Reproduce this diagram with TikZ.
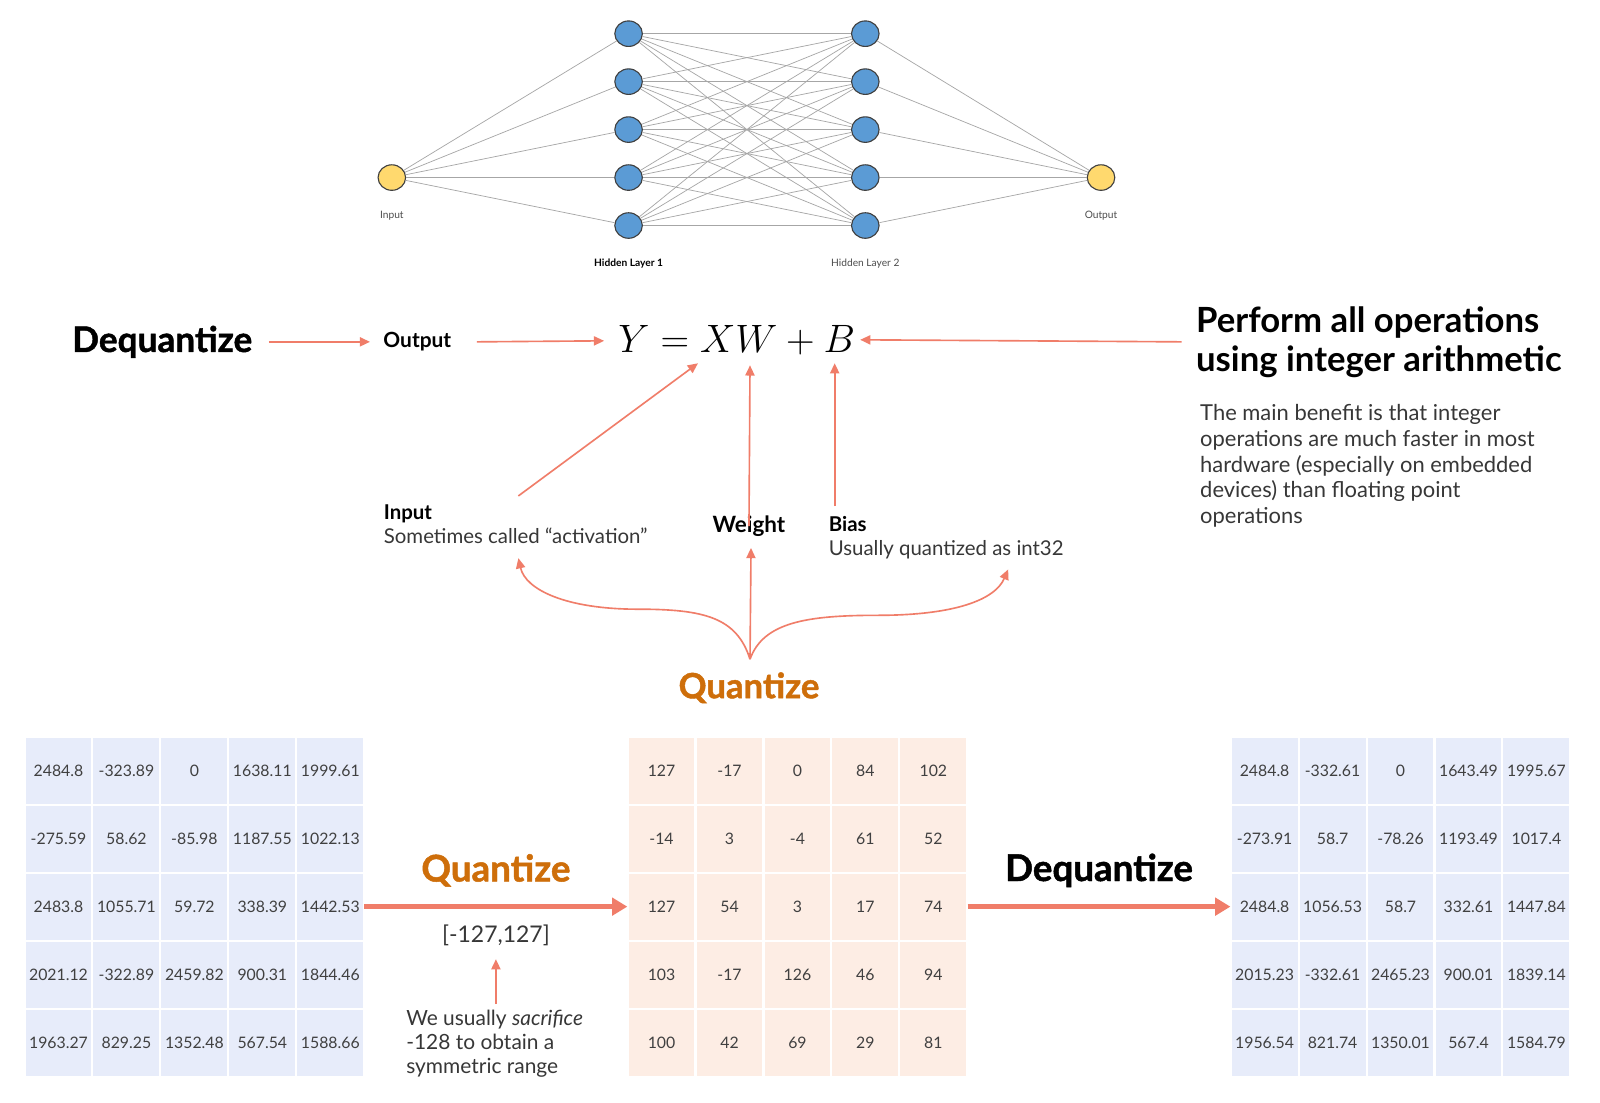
\documentclass[tikz,border=0pt]{standalone}
\usepackage{graphicx}
\usepackage{fontspec}
\setmainfont{Lato}
\newfontfamily\heavyfont{Lato}[BoldFeatures={FakeBold=1.3}]
\usetikzlibrary{arrows.meta,shapes.geometric}
\definecolor{salmon}{RGB}{240,125,105}
\definecolor{qorange}{RGB}{206,110,10}
\definecolor{nodeblue}{RGB}{91,155,213}
\definecolor{nodeyellow}{RGB}{255,217,110}
\definecolor{cellblue}{RGB}{231,236,250}
\definecolor{cellpeach}{RGB}{253,237,228}
\definecolor{txtgray}{RGB}{55,55,55}
\tikzset{
 nnedge/.style={draw=black!35, line width=0.7pt},
 hidnode/.style={ellipse, draw=black!75, line width=1.1pt, fill=nodeblue, minimum width=27pt, minimum height=25pt, inner sep=0pt},
 ionode/.style={hidnode, fill=nodeyellow},
 tinylabel/.style={font=\fontsize{10}{12}\selectfont, text=black!70, inner sep=0pt},
 tinybold/.style={font=\fontsize{10}{12}\selectfont\bfseries, text=black, inner sep=0pt},
 thinarrow/.style={draw=salmon, line width=1.6pt, -{Triangle[length=10pt,width=9pt]}},
 thickarrow/.style={draw=salmon, line width=5pt, -{Triangle[length=15pt,width=17pt]}},
 cellL/.style={fill=cellblue, minimum width=64.6pt, minimum height=64.6pt, inner sep=0pt, text=black!75, font=\fontsize{15.5}{18}\selectfont},
 cellM/.style={cellL, fill=cellpeach},
 midbold/.style={font=\fontsize{20.5}{24}\selectfont\bfseries, inner sep=0pt},
 bodytext/.style={font=\fontsize{20}{23.5}\selectfont, text=txtgray, inner sep=0pt, align=left},
}
\begin{document}
\begin{tikzpicture}[x=1pt,y=-1pt]
\fill[white] (0,0) rectangle (1568,1080);
\useasboundingbox (0,0) rectangle (1568,1080);

% ---------------- neural network ----------------
\foreach \i/\yy in {1/33,2/80,3/127,4/174,5/221} {
  \node[hidnode] (a\i) at (616,\yy) {};
  \node[hidnode] (b\i) at (848,\yy) {};
}
\node[ionode] (nin) at (384,174) {};
\node[ionode] (nout) at (1079,174) {};
\foreach \i in {1,...,5} {
  \draw[nnedge] (nin) -- (a\i);
  \draw[nnedge] (b\i) -- (nout);
  \foreach \j in {1,...,5} \draw[nnedge] (a\i) -- (b\j);
}
\node[tinylabel] (lin) at (384,211) {Input};
\node[tinylabel] (lout) at (1079,211) {Output};
\node[tinybold] (lh1) at (616,258) {Hidden Layer 1};
\node[tinylabel] (lh2) at (848,258) {Hidden Layer 2};

% ---------------- equation row ----------------
\node[font=\fontsize{34.5}{40}\heavyfont\bfseries, inner sep=0pt] (deq) at (159,335) {Dequantize};
\node[midbold] (outl) at (409,335) {Output};
\node[inner sep=0pt] (eq) at (722,333) {\scalebox{1.56}{\fontsize{24.88}{30}\selectfont $Y = XW + B$}};
\node[font=\fontsize{34}{38}\selectfont\bfseries, inner sep=0pt, align=left, anchor=west] (perf) at (1172,335) {Perform all operations\\using integer arithmetic};
\node[bodytext, font=\fontsize{21.5}{25.3}\selectfont, anchor=north west] (para) at (1176,396) {The main benefit is that integer\\operations are much faster in most\\hardware (especially on embedded\\devices) than floating point\\operations};

\coordinate (eqL) at (592,334);
\coordinate (eqR) at (843,333);
\coordinate (eqX) at (684,356);
\coordinate (eqW) at (735,358);
\coordinate (eqB) at (818,356);
\draw[thinarrow] ([xshift=16pt]deq.east) -- ([xshift=-13pt]outl.west);
\draw[thinarrow] ([xshift=25pt]outl.east) -- (eqL);
\draw[thinarrow] ([xshift=-14pt]perf.west) -- (eqR);

% labels under the equation
\node[bodytext, anchor=north west] (inlab) at (376,494) {{\color{black}\bfseries Input}\\Sometimes called “activation”};
\node[midbold, font=\fontsize{22}{24}\selectfont\bfseries] (wlab) at (734,516) {Weight};
\node[bodytext, anchor=north west] (blab) at (812,506) {{\color{black}\bfseries Bias}\\Usually quantized as int32};

\coordinate (inTop) at (508,486);
\draw[thinarrow] (inTop) -- (eqX);
\draw[thinarrow] ([yshift=-10pt]wlab.north) -- (eqW);
\draw[thinarrow] (818,496) coordinate (bTop) -- (eqB);

% quantize fan
\node[font=\fontsize{34}{38}\heavyfont\bfseries, text=qorange, inner sep=0pt] (qtop) at (734,674) {Quantize};
\coordinate (qs) at (735,646);
\draw[thinarrow] (qs) .. controls (722,605) and (690,597) .. (625,597) .. controls (555,597) and (515,578) .. (508,547);
\draw[thinarrow] (qs) -- (736,537);
\draw[thinarrow] (qs) .. controls (748,610) and (790,603) .. (860,603) .. controls (935,603) and (975,588) .. (988,558);

% ---------------- tables ----------------
\foreach \row [count=\r] in {{2484.8,-323.89,0,1638.11,1999.61},{-275.59,58.62,-85.98,1187.55,1022.13},{2483.8,1055.71,59.72,338.39,1442.53},{2021.12,-322.89,2459.82,900.31,1844.46},{1963.27,829.25,1352.48,567.54,1588.66}}
  \foreach \v [count=\c] in \row
    \node[cellL] (L-\r-\c) at ({24+66.6*(\c-0.5)},{722+66.6*(\r-0.5)}) {\v};

\foreach \row [count=\r] in {{127,-17,0,84,102},{-14,3,-4,61,52},{127,54,3,17,74},{103,-17,126,46,94},{100,42,69,29,81}}
  \foreach \v [count=\c] in \row
    \node[cellM] (M-\r-\c) at ({615+66.6*(\c-0.5)},{722+66.6*(\r-0.5)}) {\v};

\foreach \row [count=\r] in {{2484.8,-332.61,0,1643.49,1995.67},{-273.91,58.7,-78.26,1193.49,1017.4},{2484.8,1056.53,58.7,332.61,1447.84},{2015.23,-332.61,2465.23,900.01,1839.14},{1956.54,821.74,1350.01,567.4,1584.79}}
  \foreach \v [count=\c] in \row
    \node[cellL] (R-\r-\c) at ({1206+66.6*(\c-0.5)},{722+66.6*(\r-0.5)}) {\v};

\draw[thickarrow] ([xshift=1pt]L-3-5.east) -- ([xshift=-1pt]M-3-1.west);
\draw[thickarrow] ([xshift=1pt]M-3-5.east) -- ([xshift=-1pt]R-3-1.west);

\node[font=\fontsize{36}{40}\heavyfont\bfseries, text=qorange, inner sep=0pt] (qb) at (486,853) {Quantize};
\node[font=\fontsize{36}{40}\heavyfont\bfseries, inner sep=0pt] (dqb) at (1077,853) {Dequantize};
\node[font=\fontsize{22.5}{25}\selectfont, text=txtgray, inner sep=0pt] (rng) at (486,917) {[-127,127]};
\node[bodytext, font=\fontsize{20.5}{23.5}\selectfont, anchor=north west] (sac) at (398,990) {We usually \textit{sacrifice}\\-128 to obtain a\\symmetric range};
\coordinate (sacTop) at (486,984);
\draw[thinarrow] (sacTop) -- (486,940);
\end{tikzpicture}
\end{document}
